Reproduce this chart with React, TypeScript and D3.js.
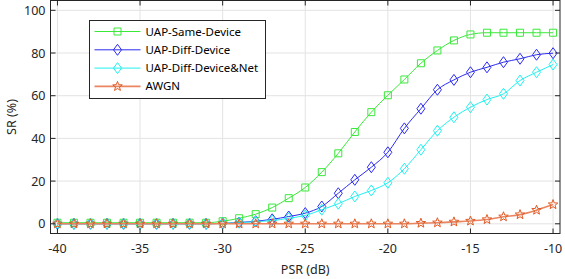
import * as d3 from "d3";

const psr = d3.range(-40, -9, 1);

const sameDevice = [
  0.5, 0.5, 0.5, 0.5, 0.5, 0.5, 0.5, 0.5, 0.5, 0.5, 1.2, 2.6, 4.5, 7.6, 12, 17, 24.2, 33, 43, 52.3, 60.2, 67.6,
  75.2, 81.2, 85.9, 88.7, 89.5, 89.5, 89.5, 89.5, 89.5,
];
const diffDevice = [
  0, 0, 0, 0, 0, 0, 0, 0, 0, 0, 0.2, 0.6, 1.2, 2.1, 3.4, 5, 8.1, 14.3, 20.6, 26.5, 33.5, 44.7, 53.9, 62.8, 67.4,
  71, 73.3, 75.7, 77.3, 79.2, 79.9,
];
const diffDeviceNet = [
  0, 0, 0, 0, 0, 0, 0, 0, 0, 0, 0.2, 0.5, 1, 1.5, 2.6, 3.9, 6.6, 9.4, 12.8, 15.6, 19.2, 25.8, 34.7, 43.6, 49.9,
  54.6, 58.2, 60.9, 67.1, 71, 74.6,
];
const awgn = [
  0, 0, 0, 0, 0, 0, 0, 0, 0, 0, 0, 0, 0, 0, 0, 0, 0, 0, 0, 0, 0, 0, 0.3, 0.5, 0.9, 1.3, 2, 3.3, 4.3, 6.4, 9,
];

const xTicks = [-40, -35, -30, -25, -20, -15, -10];
const yTicks = [0, 20, 40, 60, 80, 100];

type Marker = "square" | "diamond" | "star";
const series: { name: string; values: number[]; color: string; lineColor: string; marker: Marker; width: number }[] = [
  { name: "UAP-Same-Device", values: sameDevice, color: "#3ae83a", lineColor: "#3ae83a", marker: "square", width: 1 },
  { name: "UAP-Diff-Device", values: diffDevice, color: "#2b2bf0", lineColor: "#2b2bf0", marker: "diamond", width: 1 },
  { name: "UAP-Diff-Device&Net", values: diffDeviceNet, color: "#22f0f0", lineColor: "#22f0f0", marker: "diamond", width: 1 },
  { name: "AWGN", values: awgn, color: "#e05a24", lineColor: "#ea8560", marker: "star", width: 1.6 },
];

const WIDTH = 565;
const HEIGHT = 279;
const left = 50.5;
const right = 560;
const top = 0.5;
const bottom = 233.5;
const FONT = "'Noto Sans', 'Open Sans', sans-serif";

const markerPath = (m: Marker) => {
  if (m === "square") return "M-3.5,-3.5H3.5V3.5H-3.5Z";
  if (m === "diamond") return "M0,-5.5L4,0L0,5.5L-4,0Z";
  const pts: string[] = [];
  for (let i = 0; i < 10; i++) {
    const r = i % 2 === 0 ? 5 : 2.1;
    const a = (Math.PI / 5) * i - Math.PI / 2;
    pts.push(`${(r * Math.cos(a)).toFixed(2)},${(r * Math.sin(a)).toFixed(2)}`);
  }
  return "M" + pts.join("L") + "Z";
};

export default function App() {
  const x = d3.scaleLinear().domain([-40.42, -9.58]).range([left, right]);
  const y = d3.scaleLinear().domain([-4.55, 104.6]).range([bottom, top]);

  const line = d3
    .line<number>()
    .x((_, i) => x(psr[i]))
    .y((d) => y(d))
    .curve(d3.curveMonotoneX);

  return (
    <svg width={WIDTH} height={HEIGHT} style={{ position: "absolute", left: 0, top: 0 }}>
      <rect width={WIDTH} height={HEIGHT} fill="#fff" />
      {xTicks.map((t) => (
        <line key={"gx" + t} x1={x(t)} x2={x(t)} y1={top} y2={bottom} stroke="#e3e3e3" />
      ))}
      {yTicks.map((t) => (
        <line key={"gy" + t} x1={left} x2={right} y1={y(t)} y2={y(t)} stroke="#e3e3e3" />
      ))}
      {series.map((s) => (
        <g key={s.name}>
          <path d={line(s.values) || undefined} fill="none" stroke={s.lineColor} strokeWidth={s.width} />
          {s.values.map((v, i) => (
            <path
              key={i}
              d={markerPath(s.marker)}
              transform={`translate(${x(psr[i])},${y(v)})`}
              fill="none"
              stroke={s.color}
              strokeWidth={1}
            />
          ))}
        </g>
      ))}
      <rect x={left} y={top} width={right - left} height={bottom - top} fill="none" stroke="#262626" />
      {xTicks.map((t) => (
        <g key={"tx" + t}>
          <line x1={x(t)} x2={x(t)} y1={bottom} y2={bottom - 5} stroke="#262626" />
          <line x1={x(t)} x2={x(t)} y1={top} y2={top + 5} stroke="#262626" />
          <text x={x(t)} y={253} textAnchor="middle" fontSize={12.5} fontFamily={FONT} fill="#262626">
            {t}
          </text>
        </g>
      ))}
      {yTicks.map((t) => (
        <g key={"ty" + t}>
          <line x1={left} x2={left + 5} y1={y(t)} y2={y(t)} stroke="#262626" />
          <line x1={right} x2={right - 5} y1={y(t)} y2={y(t)} stroke="#262626" />
          <text x={left - 5} y={y(t) + 4.5} textAnchor="end" fontSize={12.5} fontFamily={FONT} fill="#262626">
            {t}
          </text>
        </g>
      ))}
      <text x={(left + right) / 2} y={274} textAnchor="middle" fontSize={12.5} fontFamily={FONT} fill="#262626">
        PSR (dB)
      </text>
      <text
        transform={`translate(16,${(top + bottom) / 2}) rotate(-90)`}
        textAnchor="middle"
        fontSize={12.5}
        fontFamily={FONT}
        fill="#262626"
      >
        SR (%)
      </text>
      <g transform="translate(89.5,20.5)">
        <rect width={176} height={78} fill="#fff" stroke="#262626" />
        {series.map((s, i) => {
          const ly = 11 + i * 18.3;
          return (
            <g key={"lg" + s.name}>
              <line x1={5} x2={51} y1={ly} y2={ly} stroke={s.lineColor} strokeWidth={s.width} />
              <path d={markerPath(s.marker)} transform={`translate(28,${ly})`} fill="none" stroke={s.color} />
              <text x={56} y={ly + 4} fontSize={11.5} fontFamily={FONT} fill="#000">
                {s.name}
              </text>
            </g>
          );
        })}
      </g>
    </svg>
  );
}
